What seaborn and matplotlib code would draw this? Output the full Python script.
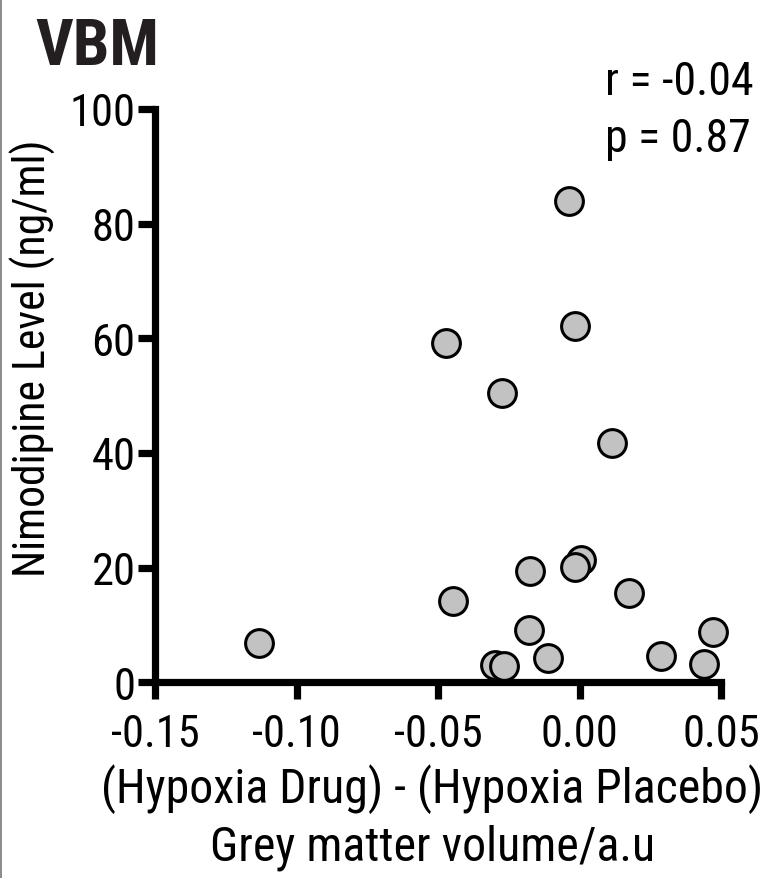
import os
import matplotlib
matplotlib.use("Agg")
import matplotlib.pyplot as plt
import seaborn as sns
import pandas as pd
from matplotlib import font_manager
from matplotlib.font_manager import FontProperties
from matplotlib.lines import Line2D

# ---- data ----
drug_minus_placebo = [-0.1132, -0.0472, -0.0446, -0.0298, -0.0268, -0.0274, -0.0180,
                      -0.0174, -0.0112, -0.0038, -0.0015, 0.0004, -0.0015, 0.0116,
                      0.0174, 0.0289, 0.0439, 0.0470]
nimodipine_level = [6.8, 59.1, 14.2, 3.0, 2.8, 50.4, 9.2,
                    19.5, 4.3, 83.9, 62.1, 21.4, 20.1, 41.7,
                    15.5, 4.6, 3.25, 8.75]
x_ticks = [-0.15, -0.10, -0.05, 0.00, 0.05]
x_tick_labels = ["-0.15", "-0.10", "-0.05", "0.00", "0.05"]
y_ticks = [0, 20, 40, 60, 80, 100]
y_tick_labels = ["0", "20", "40", "60", "80", "100"]
panel_title = "VBM"
stats_lines = ["r = -0.04", "p = 0.87"]
x_label = "(Hypoxia Drug) - (Hypoxia Placebo)\nGrey matter volume/a.u"
y_label = "Nimodipine Level (ng/ml)"

df = pd.DataFrame({"x": drug_minus_placebo, "y": nimodipine_level})

sns.set_style("ticks")
plt.rcParams["font.family"] = ["Liberation Sans", "DejaVu Sans"]
for k in ["text.color", "axes.labelcolor", "xtick.color", "ytick.color", "axes.edgecolor"]:
    plt.rcParams[k] = "black"


def find_font(keys, bold=False):
    files = [f.fname for f in font_manager.fontManager.ttflist]
    files += font_manager.findSystemFonts()
    for key in keys:
        for fn in files:
            b = os.path.basename(fn)
            bl = b.lower()
            if key.lower() not in bl:
                continue
            if bold:
                if "bold" in bl and "italic" not in bl and "oblique" not in bl and "semibold" not in bl and "extrabold" not in bl:
                    return fn
            else:
                if not any(w in bl for w in ["bold", "italic", "oblique", "light", "thin", "medium", "black", "semi"]):
                    return fn
    return None


cond_keys = ["LiberationSansNarrow", "RobotoCondensed", "Roboto-Condensed", "NotoSans-Condensed",
             "NotoSansCondensed", "OpenSansCondensed", "OpenSans_Condensed", "DejaVuSansCondensed"]
reg_file = find_font(cond_keys)
bold_file = find_font(cond_keys, bold=True)


def fp(size, bold=False):
    f = bold_file if bold else reg_file
    if f:
        return FontProperties(fname=f, size=size)
    return FontProperties(family=["Liberation Sans", "DejaVu Sans"], size=size * 0.9,
                          weight="bold" if bold else "normal")


W, H = 781, 879
fig = plt.figure(figsize=(W / 100, H / 100), dpi=100)
ax = fig.add_axes([155 / W, (H - 683.3) / H, (721 - 155) / W, (683.3 - 110) / H])

sns.scatterplot(data=df, x="x", y="y", ax=ax, s=400, color="#c1c2c1",
                edgecolor="black", linewidth=2.2, clip_on=False, zorder=5,
                legend=False)

ax.set_xlim(-0.15, 0.05)
ax.set_ylim(0, 100)
ax.set_xticks(x_ticks)
ax.set_xticklabels(x_tick_labels)
ax.set_yticks(y_ticks)
ax.set_yticklabels(y_tick_labels)
sns.despine(ax=ax)
for s in ["left", "bottom"]:
    ax.spines[s].set_linewidth(5.2)
    ax.spines[s].set_capstyle("projecting")
ax.tick_params(axis="both", length=12, width=5.2, colors="black")
ax.tick_params(axis="x", pad=10)
ax.tick_params(axis="y", pad=2)
for lab in ax.get_xticklabels() + ax.get_yticklabels():
    lab.set_fontproperties(fp(32))

ax.set_xlabel(x_label, fontproperties=fp(34.5), linespacing=1.28)
ax.xaxis.set_label_coords(0.49, -0.234)
ax.xaxis.label.set_va("center")
ax.set_ylabel(y_label, fontproperties=fp(31.5), va="center")
ax.yaxis.set_label_coords((33 - 155) / 566, (683.3 - 358) / 573.3)

fig.text(35 / W, 1 - 65 / H, panel_title, fontproperties=fp(47, bold=True),
         va="baseline", ha="left", color="#231f20")
fig.text(605 / W, 1 - 95 / H, stats_lines[0], fontproperties=fp(33), va="baseline", ha="left")
fig.text(605 / W, 1 - 152 / H, stats_lines[1], fontproperties=fp(33), va="baseline", ha="left")

fig.add_artist(Line2D([0.8 / W, 0.8 / W], [0, 1], color="#777777", linewidth=1.2,
                      transform=fig.transFigure))

fig.savefig("out.png", dpi=100, facecolor="white")
